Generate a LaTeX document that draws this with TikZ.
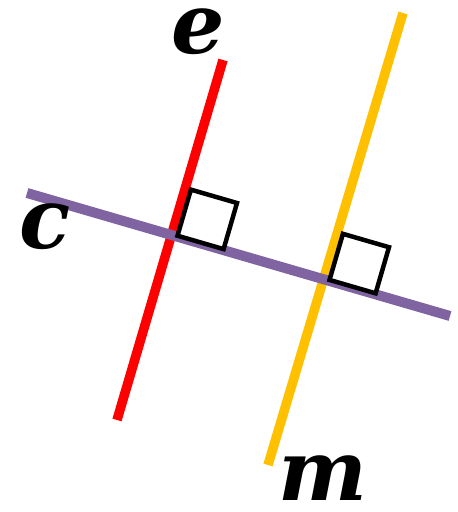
\documentclass[tikz,border=0pt]{standalone}
\usepackage{fontspec}
\setmainfont{DejaVu Serif}
\usepackage{xcolor}
\usepackage{tikz}
\usetikzlibrary{calc,intersections}
\definecolor{purple2}{RGB}{128,100,162}
\definecolor{red2}{RGB}{255,0,0}
\definecolor{yellow2}{RGB}{255,192,0}
\tikzset{
  purpleline/.style={draw=purple2, line width=10pt},
  redline/.style={draw=red2, line width=9.5pt},
  yellowline/.style={draw=yellow2, line width=9.5pt},
  rightbox/.style={draw=black, line width=4.5pt, fill=white, line join=miter},
  lbl/.style={font=\fontsize{84}{84}\selectfont\bfseries\itshape, inner sep=0pt,
    text height=0.52em, text depth=0pt, anchor=base}
}

\begin{document}
\begin{tikzpicture}[x=1pt, y=1pt]
\useasboundingbox (0,0) rectangle (458,512);

\coordinate (cA) at (27,319);
\coordinate (cB) at (450,196);
\coordinate (eA) at (117,92);
\coordinate (eB) at (223,452);
\coordinate (mA) at (268,47);
\coordinate (mB) at (403,499);

\path[name path=cpath] (cA)--(cB);
\path[name path=epath] (eA)--(eB);
\path[name path=mpath] (mA)--(mB);
\path[name intersections={of=cpath and epath, by=ce}];
\path[name intersections={of=cpath and mpath, by=cm}];

\draw[redline] (eA)--(eB);
\draw[yellowline] (mA)--(mB);
\draw[purpleline] (cA)--(cB);

% right angle marks
\draw[rightbox] ($(ce)+(-16.2:6)+(73.8:1)$) -- ++(-16.2:48) -- ++(73.8:48) -- ++(163.8:48) -- cycle;
\draw[rightbox] ($(cm)+(-16.2:6)+(73.8:1)$) -- ++(-16.2:48) -- ++(73.8:48) -- ++(163.8:48) -- cycle;

\node[lbl] (elbl) at (198,458) {e};
\node[lbl] (clbl) at (45,263) {c};
\node[lbl] (mlbl) at (323,11) {m};
\end{tikzpicture}
\end{document}
